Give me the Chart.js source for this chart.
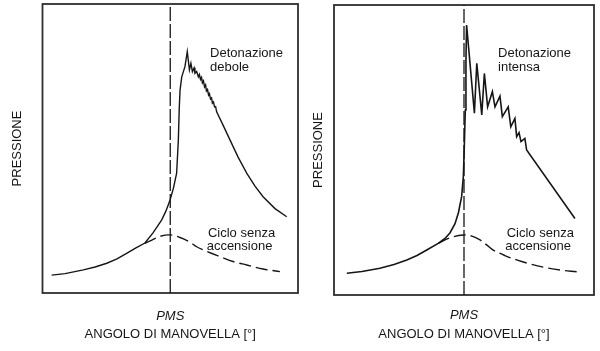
<!DOCTYPE html>
<html>
<head>
<meta charset="utf-8">
<script src="https://cdn.jsdelivr.net/npm/chart.js@4/dist/chart.umd.min.js"></script>
<style>
html,body{margin:0;padding:0;background:#fff;}
#wrap{position:relative;width:600px;height:351px;background:#fff;}
canvas{position:absolute;top:0;}
</style>
</head>
<body>
<div id="wrap">
<canvas id="c1" width="300" height="351" style="left:0px"></canvas>
<canvas id="c2" width="300" height="351" style="left:300px"></canvas>
</div>
<script>
// ---- data (crank angle, deg relative to PMS; pressure, arbitrary units 0..100) ----
const PMS = 0;
const xAxisTitle = 'ANGOLO DI MANOVELLA [°]';
const yAxisTitle = 'PRESSIONE';
const pmsLabel = 'PMS';

// Left panel: weak knock
const weakAngle = [-55.7,-49.4,-40.8,-35.3,-29.8,-25.0,-20.5,-16.1,-11.9,-8.1,-4.0,-2.0,-0.1,1.5,3.0,3.8,4.2,4.6,5.4,6.9,8.0,9.0,9.7,10.4,11.2,11.6,12.4,13.2,13.7,14.2,14.7,15.1,15.6,16.1,16.6,17.0,17.5,18.0,18.4,18.9,19.4,19.8,20.3,20.8,21.3,21.8,24.8,28.1,31.8,35.9,39.8,43.6,49.2,54.7];
const weakPressure = [6.2,6.7,8.0,9.0,10.3,11.8,13.7,15.6,17.3,20.8,25.3,28.4,32.2,36.3,41.5,52.9,63.3,70.2,74.8,78.3,83.5,77.2,79.5,76.6,77.9,76.0,76.6,74.8,75.6,73.9,74.6,72.7,73.4,71.3,72.0,69.9,70.4,68.5,69.0,67.1,67.5,65.7,66.1,64.4,64.5,62.7,58.1,52.9,47.1,41.5,37.0,33.3,29.2,26.4];
const motoredAngleL = [-11.9,-8.6,-4.8,-0.1,4.6,9.3,12.4,17.7,23.4,29.5,35.9,43.6,51.5];
const motoredPressureL = [17.2,18.3,19.6,20.1,19.2,17.6,16.0,14.2,12.6,10.9,9.7,8.3,7.4];

// Right panel: intense knock
const intenseAngle = [-54.1,-47.1,-38.8,-32.3,-26.4,-21.7,-17.2,-11.9,-8.8,-6.5,-4.2,-2.6,-1.1,-0.3,0.1,0.6,0.9,1.2,4.8,5.9,8.2,9.4,10.9,13.1,14.3,16.6,17.7,20.4,21.6,23.5,24.3,25.4,26.3,28.1,28.9,51.2];
const intensePressure = [7.5,8.1,9.2,10.5,12.1,13.6,15.5,17.8,19.5,21.4,24.5,28.3,33.9,40.8,50.0,63.8,81.0,93.1,62.7,79.9,62.1,76.4,64.9,70.1,64.9,68.6,61.5,64.9,58.0,60.9,54.6,56.0,52.9,54.0,50.0,26.4];
const motoredAngleR = [-11.9,-6.5,-0.3,3.7,7.4,10.6,13.5,18.9,24.3,30.5,36.6,44.3,52.0];
const motoredPressureR = [17.8,19.7,20.7,20.3,19.0,17.2,15.5,13.6,12.1,10.7,9.6,8.6,8.0];

const notesLeft = ['Detonazione', 'debole', 'Ciclo senza', 'accensione'];
const notesRight = ['Detonazione', 'intensa', 'Ciclo senza', 'accensione'];

// ---- helpers ----
const FONT = '"Liberation Sans", Arial, Helvetica, sans-serif';
const INK = '#161616';
const pts = (xs, ys) => xs.map((x, i) => ({x, y: ys[i]}));

const boxPlugin = {
  id: 'box',
  beforeDatasetsDraw(chart) {
    const {ctx, chartArea: a} = chart;
    ctx.save();
    ctx.strokeStyle = '#2e2e2e';
    ctx.lineWidth = 1.8;
    ctx.strokeRect(a.left, a.top, a.right - a.left, a.bottom - a.top);
    ctx.restore();
  }
};
const notesPlugin = {
  id: 'notes',
  afterDatasetsDraw(chart, args, opts) {
    const {ctx, scales: {x, y}} = chart;
    ctx.save();
    ctx.font = '13px ' + FONT;
    ctx.fillStyle = INK;
    ctx.textBaseline = 'middle';
    ctx.textAlign = 'left';
    opts.items.forEach(it => ctx.fillText(it.text, x.getPixelForValue(it.x), y.getPixelForValue(it.y)));
    ctx.restore();
  }
};

function makeChart(id, solid, dashed, notes, L) {
  return new Chart(document.getElementById(id), {
    type: 'line',
    data: {
      datasets: [
        { data: [{x: PMS, y: 0}, {x: PMS, y: 100}], borderColor: INK, borderWidth: 1.3, borderDash: [14, 3], pointRadius: 0, tension: 0 },
        { data: dashed, borderColor: INK, borderWidth: 1.4, borderDash: [12, 5], pointRadius: 0, tension: 0.35 },
        { data: solid, borderColor: INK, borderWidth: L.solidW, pointRadius: 0, tension: 0 }
      ]
    },
    options: {
      responsive: false,
      animation: false,
      devicePixelRatio: 1,
      layout: { padding: { top: L.top, right: L.right, bottom: 0, left: 0 } },
      plugins: {
        legend: { display: false },
        tooltip: { enabled: false },
        notes: { items: L.notes.map((n, i) => ({ text: notes[i], x: n[0], y: n[1] })) }
      },
      scales: {
        x: {
          type: 'linear', min: -60, max: 60,
          grid: { display: false, drawTicks: false },
          border: { display: false },
          afterBuildTicks: s => { s.ticks = [{ value: PMS }]; },
          afterFit: s => { s.height = L.xh; },
          ticks: { autoSkip: false, maxRotation: 0, padding: L.tickPad, color: INK,
                   font: { family: FONT, size: 13, style: 'italic' }, callback: () => pmsLabel },
          title: { display: true, text: xAxisTitle, color: INK, font: { family: FONT, size: 13 },
                   padding: { top: 0, bottom: 9 } }
        },
        y: {
          min: 0, max: 100,
          grid: { display: false, drawTicks: false },
          border: { display: false },
          ticks: { display: false },
          afterFit: s => { s.width = L.yw; },
          title: { display: true, text: yAxisTitle, color: INK, font: { family: FONT, size: 13 },
                   padding: { top: L.yTitlePad, bottom: 0 } }
        }
      }
    },
    plugins: [boxPlugin, notesPlugin]
  });
}

makeChart('c1', pts(weakAngle, weakPressure), pts(motoredAngleL, motoredPressureL), notesLeft, {
  top: 4, right: 2, xh: 58, yw: 42.5, tickPad: 16, yTitlePad: 9.5, solidW: 1.4,
  notes: [[18.7, 83.0], [18.7, 77.9], [17.7, 20.7], [17.1, 16.0]]
});
makeChart('c2', pts(intenseAngle, intensePressure), pts(motoredAngleR, motoredPressureR), notesRight, {
  top: 5, right: 6, xh: 56, yw: 34, tickPad: 13, yTitlePad: 10.5, solidW: 1.6,
  notes: [[15.7, 83.4], [15.7, 78.6], [19.7, 21.4], [19.0, 16.9]]
});
</script>
</body>
</html>
